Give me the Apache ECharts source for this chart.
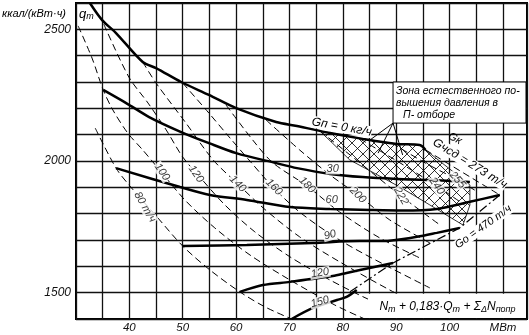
<!DOCTYPE html>
<html><head><meta charset="utf-8">
<script src="https://cdn.jsdelivr.net/npm/echarts@6/dist/echarts.min.js"></script>
<style>html,body{margin:0;padding:0;background:#fff}#c{width:529px;height:335px}</style>
</head><body><div id="c"></div>
<script>
// ---- axis ticks ----
const xLabelValues = [40, 50, 60, 70, 80, 90, 100];
const xUnitAt = 110, xUnitText = 'МВт';
const yLabelValues = [1500, 2000, 2500];

// ---- thick curves: heat rate q_T for constant Q_T (Гкал/ч) ----
const gp0X = [32.6, 34.9, 37.5, 42.5, 45.0, 49.7, 54.9, 60.0, 67.5, 71.4, 77.6, 83.7, 90.1, 94.4, 95.5];
const gp0Y = [2600, 2535, 2486, 2376, 2353, 2300, 2251, 2201, 2148, 2133, 2106, 2084, 2065, 2061, 2042];
const q30X = [35.1, 39.4, 43.7, 49.7, 54.9, 60.0, 67.5, 71.4, 77.6, 83.7, 90.1, 96.3, 103.8];
const q30Y = [2270, 2220, 2167, 2110, 2068, 2030, 1992, 1973, 1951, 1939, 1932, 1928, 1920];
const q60X = [37.5, 49.5, 55.1, 62.0, 70.1, 77.6, 85.1, 91.2, 97.6, 103.8, 109.4];
const q60Y = [1973, 1901, 1871, 1852, 1825, 1818, 1814, 1812, 1818, 1845, 1871];
const q90X = [50.0, 62.0, 74.4, 83.2, 87.5, 93.9, 97.6, 101.9];
const q90Y = [1677, 1681, 1689, 1696, 1696, 1712, 1727, 1746];
const q120X = [60.7, 65.0, 70.1, 78.1, 80.7, 83.2, 89.4];
const q120Y = [1503, 1529, 1541, 1563, 1575, 1586, 1613];
const q150X = [70.4, 74.4, 78.9, 80.7, 82.6];
const q150Y = [1400, 1442, 1472, 1484, 1510];

// ---- dashed curves: constant steam flow G (т/ч) ----
const g80X = [33.6, 37.5, 40.1, 45.2, 50.0, 55.1, 60.7, 65.4, 70.4];
const g80Y = [2125, 1973, 1905, 1787, 1677, 1586, 1503, 1446, 1400];
const g100X = [30.4, 33.0, 35.1, 36.9, 39.7, 42.5, 45.2, 50.4, 56.0, 62.6, 70.1, 78.5, 84.1];
const g100Y = [2513, 2391, 2270, 2194, 2106, 2042, 1977, 1852, 1746, 1643, 1548, 1453, 1400];
const g120X = [35.2, 39.9, 43.5, 46.9, 50.0, 53.2, 57.9, 63.5, 70.1, 77.6, 85.1, 90.7];
const g120Y = [2520, 2319, 2220, 2118, 2015, 1939, 1833, 1731, 1636, 1548, 1472, 1427];
const g140X = [42.5, 45.0, 50.6, 55.7, 60.3, 65.4, 71.9, 79.4, 88.8, 96.3];
const g140Y = [2376, 2296, 2144, 2004, 1913, 1816, 1712, 1617, 1510, 1434];
const g160X = [50.0, 54.9, 58.7, 62.4, 66.9, 71.9, 79.4, 87.9, 96.3];
const g160Y = [2296, 2182, 2091, 2004, 1901, 1806, 1700, 1605, 1518];
const g180X = [58.1, 63.1, 66.9, 73.3, 79.4, 86.9, 94.4];
const g180Y = [2213, 2080, 1993, 1905, 1806, 1708, 1632];
const g200X = [65.6, 71.9, 77.6, 82.8, 88.8, 96.3];
const g200Y = [2156, 2042, 1947, 1871, 1776, 1689];
const g222X = [75.7, 83.2, 90.9, 98.2];
const g222Y = [2114, 1993, 1867, 1757];
const g240X = [83.2, 90.7, 97.6, 102.8];
const g240Y = [2084, 1993, 1905, 1833];
const g255X = [89.2, 95.4, 101.5, 105.3];
const g255Y = [2068, 1993, 1928, 1882];
const g273X = [95.5, 109.4];
const g273Y = [2042, 1871];
const go470X = [109.4, 101.9, 89.4, 81.3];
const go470Y = [1871, 1746, 1613, 1503];

// ---- hatched zone ----
const hatchX = [75.7, 83.7, 90.1, 94.4, 95.5, 103.8, 103.8, 102.5, 96.3, 90.7, 81.3];
const hatchY = [2114, 2084, 2065, 2061, 2042, 1909, 1833, 1757, 1833, 1901, 2004];
// pointer lines from the zone note
const pointerFromX = 89.4, pointerFromY = 2144;
const pointerToX = [85.1, 86.6, 91.2];
const pointerToY = [2080, 2030, 2023];

// ---- labels ----
const labelText = ['80 т/ч', '100', '120', '140', '160', '180', '200', '222', '240', '255',
  '30', '60', '90', '120', '150'];
const labelX = [42.9, 46.1, 52.5, 60.3, 67.1, 73.3, 82.8, 90.9, 97.6, 101.5, 78.1, 77.9, 77.6, 75.7, 75.7];
const labelY = [1825, 1958, 1951, 1913, 1901, 1909, 1871, 1867, 1905, 1928, 1970, 1852, 1719, 1575, 1465];
const labelRot = [-60, -55, -55, -45, -45, -45, -45, -60, -55, -50, 0, 0, 15, 10, 15];

const zip = (xs, ys) => xs.map((x, i) => [x, ys[i]]);
const FONT = 'Liberation Sans';

function hatchCanvas() {
  const c = document.createElement('canvas');
  c.width = 11; c.height = 11;
  const g = c.getContext('2d');
  g.strokeStyle = '#000'; g.lineWidth = 0.8;
  g.beginPath();
  g.moveTo(-1, 12); g.lineTo(12, -1);
  g.moveTo(-1, -1); g.lineTo(12, 12);
  g.stroke();
  return c;
}
const hatchPattern = { image: hatchCanvas(), repeat: 'repeat' };

function thick(name, xs, ys) {
  return { type: 'line', name, data: zip(xs, ys), symbol: 'none', smooth: 0.3,
    lineStyle: { color: '#000', width: 2.5 }, z: 5, silent: true };
}
function dashed(name, xs, ys) {
  return { type: 'line', name, data: zip(xs, ys), symbol: 'none', smooth: 0.3,
    lineStyle: { color: '#000', width: 1, type: [7, 4] }, z: 4, silent: true };
}

const chart = echarts.init(document.getElementById('c'), null, { renderer: 'canvas' });
const series = [
  {
    type: 'custom', name: 'zone', data: [[hatchX[0], hatchY[0]]], z: 3, silent: true,
    renderItem: (params, api) => ({
      type: 'polygon',
      shape: { points: hatchX.map((x, i) => api.coord([x, hatchY[i]])) },
      style: { fill: hatchPattern, stroke: '#000', lineWidth: 0.8 }
    })
  },
  thick('Gп=0', gp0X, gp0Y), thick('30', q30X, q30Y), thick('60', q60X, q60Y),
  thick('90', q90X, q90Y), thick('120', q120X, q120Y), thick('150', q150X, q150Y),
  dashed('G80', g80X, g80Y), dashed('G100', g100X, g100Y), dashed('G120', g120X, g120Y),
  dashed('G140', g140X, g140Y), dashed('G160', g160X, g160Y), dashed('G180', g180X, g180Y),
  dashed('G200', g200X, g200Y), dashed('G222', g222X, g222Y), dashed('G240', g240X, g240Y),
  dashed('G255', g255X, g255Y), dashed('G273', g273X, g273Y),
  { type: 'line', name: 'Go470', data: zip(go470X, go470Y), symbol: 'none',
    lineStyle: { color: '#000', width: 1.2, type: [9, 3, 2, 3] }, z: 4, silent: true },
  ...pointerToX.map((x, i) => ({ type: 'line', data: [[pointerFromX, pointerFromY], [x, pointerToY[i]]],
    symbol: 'none', lineStyle: { color: '#000', width: 1 }, z: 4, silent: true })),
  {
    type: 'scatter', name: 'labels', symbolSize: 0, z: 10, silent: true,
    data: labelText.map((t, i) => ({
      value: [labelX[i], labelY[i]],
      label: { show: true, position: 'inside', formatter: t, rotate: labelRot[i],
        color: '#000', fontSize: 11, fontStyle: 'italic', fontFamily: FONT,
        backgroundColor: '#fff', padding: [0, 1] }
    }))
  }
];

chart.setOption({
  animation: false,
  backgroundColor: '#fff',
  grid: { left: 76, top: 3, right: 2, bottom: 16, show: true, borderColor: '#000', borderWidth: 2 },
  xAxis: {
    type: 'value', min: 30, max: 114.5, interval: 5,
    axisLine: { show: false }, axisTick: { show: false },
    splitLine: { show: true, lineStyle: { color: '#111', width: 1.3 } },
    axisLabel: {
      margin: 3, color: '#111', fontSize: 11.5, fontStyle: 'italic', fontFamily: FONT,
      showMaxLabel: false,
      formatter: v => v === xUnitAt ? xUnitText : (xLabelValues.includes(v) ? String(v) : '')
    }
  },
  yAxis: {
    type: 'value', min: 1400, max: 2600, interval: 100,
    axisLine: { show: false }, axisTick: { show: false },
    splitLine: { show: true, lineStyle: { color: '#111', width: 1.3 } },
    axisLabel: {
      margin: 5, color: '#111', fontSize: 12, fontStyle: 'italic', fontFamily: FONT,
      formatter: v => yLabelValues.includes(v) ? String(v) : ''
    }
  },
  series
});

function px(x, y) { return chart.convertToPixel('grid', [x, y]); }
const nA = px(89.4, 2300), nB = px(114.5, 2144);
const bA = px(84.7, 1500), bB = px(114.5, 1400);
const txt = (x, y, text, size, extra) => Object.assign({
  type: 'text', x, y, z: 20,
  style: { text, fill: '#000', font: 'italic ' + size + 'px "' + FONT + '"', textVerticalAlign: 'middle' }
}, extra || {});

chart.setOption({
  graphic: [
    { type: 'rect', z: 15, shape: { x: nA[0], y: nA[1], width: nB[0] - nA[0] - 1, height: nB[1] - nA[1] },
      style: { fill: '#fff', stroke: '#000', lineWidth: 1 } },
    txt(nA[0] + 3, nA[1] + 9, 'Зона естественного по-', 10.5),
    txt(nA[0] + 3, nA[1] + 21, 'вышения давления в', 10.5),
    txt(nA[0] + 10, nA[1] + 33, 'П- отборе', 10.5),
    { type: 'rect', z: 15, shape: { x: bA[0], y: bA[1] + 1, width: bB[0] - bA[0] - 1, height: bB[1] - bA[1] - 2 },
      style: { fill: '#fff', stroke: null } },
    { type: 'text', z: 20, x: (bA[0] + bB[0]) / 2, y: (bA[1] + bB[1]) / 2 + 1,
      style: { text: '{n|N}{s|т} {n|+ 0,183·Q}{s|т} {n|+ Σ}{s|Δ}{n|N}{s|попр}',
        align: 'center', verticalAlign: 'middle',
        rich: { n: { font: 'italic 12px "' + FONT + '"', fill: '#000' },
                s: { font: 'italic 9px "' + FONT + '"', fill: '#000', padding: [5, 0, 0, 0] } } } },
    // unit and axis name
    txt(2, 14, 'ккал/(кВт·ч)', 11),
    { type: 'text', z: 20, x: 79, y: 14,
      style: { text: '{n|q}{s|т}', verticalAlign: 'middle',
        rich: { n: { font: 'italic 13px "' + FONT + '"', fill: '#000' },
                s: { font: 'italic 9px "' + FONT + '"', fill: '#000', padding: [0, 0, -4, 0] } } } },
    // annotations
    (() => { const p = px(79.8, 2129); return { type: 'text', z: 20, x: p[0], y: p[1], rotation: -0.18,
      style: { text: 'Gп = 0 кг/ч', align: 'center', verticalAlign: 'middle', fill: '#000',
        font: 'italic 12px "' + FONT + '"', backgroundColor: '#fff' } }; })(),
    (() => { const p = px(101.0, 2085); return { type: 'text', z: 20, x: p[0], y: p[1], rotation: -0.5,
      style: { text: 'Gк', align: 'center', verticalAlign: 'middle', fill: '#000',
        font: 'italic 11px "' + FONT + '"' } }; })(),
    (() => { const p = px(103.8, 1990); return { type: 'text', z: 20, x: p[0], y: p[1], rotation: -0.55,
      style: { text: 'Gчсд = 273 т/ч', align: 'center', verticalAlign: 'middle', fill: '#000',
        font: 'italic 12px "' + FONT + '"', backgroundColor: '#fff' } }; })(),
    (() => { const p = px(106.3, 1750); return { type: 'text', z: 20, x: p[0], y: p[1], rotation: 0.62,
      style: { text: 'Gо = 470 т/ч', align: 'center', verticalAlign: 'middle', fill: '#000',
        font: 'italic 11px "' + FONT + '"', backgroundColor: '#fff' } }; })()
  ]
});
</script></body></html>
